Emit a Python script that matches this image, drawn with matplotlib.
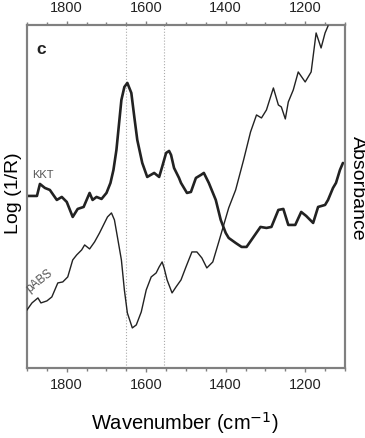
import numpy as np
import matplotlib.pyplot as plt
from matplotlib.ticker import MultipleLocator

plt.rcParams['font.family'] = ['Liberation Sans', 'DejaVu Sans']

# KKT-transformed reflectance spectrum (left axis, arbitrary units)
kkt_wn = [1900, 1875, 1867.5, 1855, 1842.5, 1825, 1812.5, 1800, 1785, 1772.5,
          1757.5, 1742.5, 1735, 1725, 1712.5, 1700, 1690, 1682.5, 1675, 1672.5,
          1662.5, 1655, 1647.5, 1637.5, 1630, 1622.5, 1610, 1597.5, 1580, 1567.5,
          1560, 1550, 1542.5, 1537.5, 1530, 1517.5, 1512.5, 1497.5, 1487.5, 1475,
          1462.5, 1455, 1442.5, 1425, 1412.5, 1400, 1392.5, 1375, 1360, 1347.5,
          1330, 1312.5, 1297.5, 1285, 1267.5, 1255, 1242.5, 1225, 1210, 1197.5,
          1180, 1167.5, 1150, 1142.5, 1130, 1122.5, 1112.5, 1105]
kkt_val = [172, 172, 184, 180, 178, 168, 171, 166, 151, 159,
           161, 175, 168, 171, 169, 175, 185, 198, 218, 228,
           268, 281, 285, 275, 251, 228, 205, 191, 195, 191,
           201, 215, 217, 213, 200, 190, 185, 175, 176, 190,
           193, 195, 185, 168, 148, 135, 130, 125, 121, 121,
           131, 141, 140, 141, 158, 159, 143, 143, 156, 152,
           145, 161, 163, 168, 180, 185, 198, 205]

# pseudo-absorbance spectrum (right axis, arbitrary units)
pabs_wn = [1900, 1887.5, 1872.5, 1865, 1850, 1837.5, 1822.5, 1810, 1797.5, 1785,
           1775, 1762.5, 1755, 1742.5, 1730, 1717.5, 1705, 1697.5, 1687.5, 1680,
           1672.5, 1662.5, 1655, 1647.5, 1635, 1625, 1612.5, 1600, 1587.5, 1575,
           1567.5, 1560, 1555, 1547.5, 1535, 1525, 1512.5, 1500, 1485, 1472.5,
           1460, 1447.5, 1432.5, 1417.5, 1405, 1392.5, 1375, 1355, 1337.5, 1322.5,
           1310, 1297.5, 1280, 1267.5, 1260, 1250, 1242.5, 1230, 1217.5, 1200,
           1185, 1172.5, 1160, 1150, 1142.5]
pabs_val = [58, 65, 70, 65, 67, 71, 85, 86, 91, 108,
            113, 118, 123, 119, 126, 135, 145, 151, 155, 148,
            131, 108, 78, 55, 40, 43, 56, 78, 91, 95,
            101, 106, 100, 88, 75, 81, 88, 101, 116, 116,
            110, 100, 106, 126, 143, 160, 178, 208, 236, 253,
            250, 258, 280, 263, 261, 249, 266, 278, 296, 286,
            296, 335, 320, 335, 342]

marker_lines = [1652, 1555]
xticks = [1800, 1600, 1400, 1200]

edge = '#808080'
ink = '#222222'

fig = plt.figure(figsize=(3.65, 4.38), dpi=100)
ax = fig.add_axes([0.074, 0.160, 0.871, 0.783])
ax2 = ax.twinx()

for w in marker_lines:
    ax.axvline(w, color='#aaaaaa', lw=0.8, ls=':', zorder=1)

ax.plot(kkt_wn, kkt_val, color=ink, lw=1.9, zorder=3,
        solid_joinstyle='round', solid_capstyle='round')
ax2.plot(pabs_wn, pabs_val, color=ink, lw=1.0, zorder=3,
         solid_joinstyle='round')

ax.set_xlim(1900, 1100)
ax.set_ylim(0, 343)
ax2.set_ylim(0, 343)
ax.set_xticks(xticks)
ax.xaxis.set_minor_locator(MultipleLocator(50))
ax.tick_params(axis='x', which='both', top=True, labeltop=True,
               direction='out', color=edge, labelsize=10.5, labelcolor='#222222')
ax.tick_params(axis='x', which='major', length=3, width=1, pad=4)
ax.tick_params(axis='x', which='minor', length=2, width=1)
ax.set_yticks([])
ax2.set_yticks([])
for a in (ax, ax2):
    for s in a.spines.values():
        s.set_color(edge)
        s.set_linewidth(1.5)

fig.text(0.507, 0.034, 'Wavenumber (cm$^{-1}$)', fontsize=14.5,
         ha='center', va='center')
fig.text(0.036, 0.559, 'Log (1/R)', fontsize=14, rotation=90,
         ha='center', va='center')
fig.text(0.978, 0.571, 'Absorbance', fontsize=14, rotation=-90,
         ha='center', va='center')

ax.text(0.03, 0.95, 'c', transform=ax.transAxes, fontsize=12.5,
        fontweight='bold', va='top', ha='left', color='#222222')
ax.text(1887, 193, 'KKT', fontsize=8, color='#555555', ha='left', va='center')
ax2.text(1868, 87, 'pABS', fontsize=8.5, color='#555555', ha='center',
         va='center', rotation=38)

fig.savefig('out.png', dpi=100)
